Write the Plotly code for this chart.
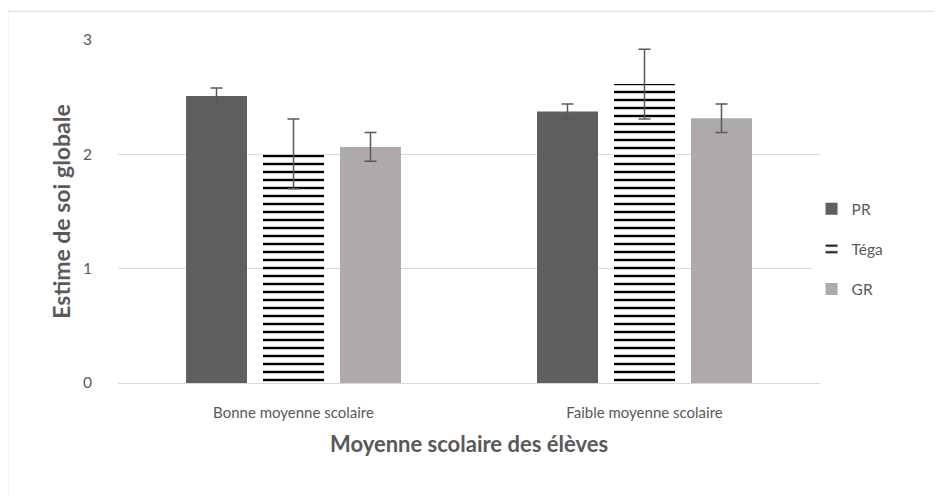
import plotly.graph_objects as go

# data
categories = ['Bonne moyenne scolaire', 'Faible moyenne scolaire']
series = ['PR', 'Téga', 'GR']
pr_means = [2.51, 2.375]
pr_err = [0.07, 0.065]
tega_means = [2.005, 2.615]
tega_err = [0.305, 0.305]
gr_means = [2.065, 2.315]
gr_err = [0.125, 0.125]

font_name = 'Lato'
txt_col = '#595959'
err_col = '#595959'

fig = go.Figure()

def add_bar(name, y, err, color, pattern=None):
    marker = dict(color=color, line=dict(width=0))
    if pattern:
        marker['pattern'] = pattern
    fig.add_trace(go.Bar(
        x=categories, y=y, name=name, marker=marker,
        legendgroup=name,
        error_y=dict(type='data', array=err, visible=True,
                     color=err_col, thickness=1.5, width=6),
    ))

add_bar('PR', pr_means, pr_err, '#5f5f5f')
add_bar('Téga', tega_means, tega_err, 'white',
        pattern=dict(shape='-', fgcolor='black', bgcolor='white', fgopacity=1,
                     size=8, solidity=0.3, fillmode='replace'))
add_bar('GR', gr_means, gr_err, '#aeaaaa')

# light frame around the whole chart (extends past the right/bottom edge)
fig.add_shape(type='rect', xref='paper', yref='paper',
              x0=-0.157, x1=1.3, y0=-0.5, y1=1.084,
              line=dict(color='#d9d9d9', width=1), layer='below')

# the page body adds an 8px offset, margins compensate for it
fig.update_layout(
    width=942, height=496,
    margin=dict(l=110, r=130, t=32, b=121),
    paper_bgcolor='white', plot_bgcolor='white',
    font=dict(family=font_name, size=15, color=txt_col),
    barmode='group', bargap=0.342, bargroupgap=0.208,
    showlegend=True,
    legend=dict(x=0.988, y=0.39, xanchor='left', yanchor='middle',
                font=dict(size=15.5, color=txt_col),
                traceorder='grouped', tracegroupgap=17,
                itemwidth=30),
)

fig.update_yaxes(
    range=[0, 3], dtick=1, showgrid=True, gridcolor='#d9d9d9', gridwidth=1,
    zeroline=False, showline=False,
    ticks='outside', ticklen=22, tickcolor='rgba(0,0,0,0)',
    tickfont=dict(size=15.5, color=txt_col),
    title=dict(text='<b>Estime de soi globale</b>', standoff=5,
               font=dict(size=23, color=txt_col)),
)
fig.update_xaxes(
    showline=True, linecolor='#d9d9d9', linewidth=1,
    ticks='outside', ticklen=16, tickcolor='rgba(0,0,0,0)',
    tickfont=dict(size=15, color=txt_col),
    title=dict(text='<b>Moyenne scolaire des élèves</b>', standoff=16,
               font=dict(size=22, color=txt_col)),
)

fig.write_html('out.html')
